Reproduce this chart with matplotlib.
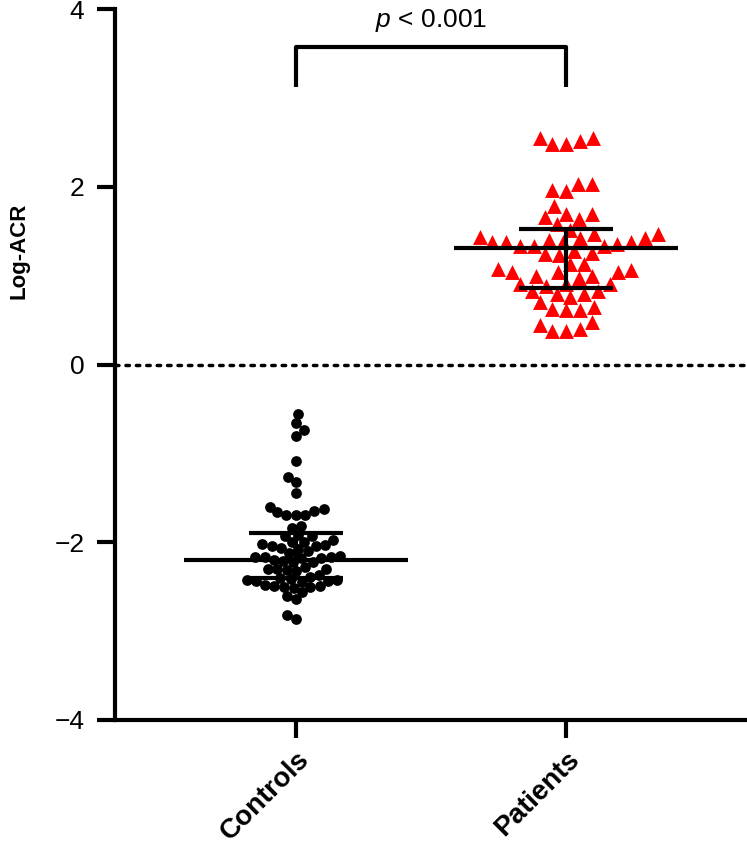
import numpy as np
import matplotlib
matplotlib.use('Agg')
import matplotlib.pyplot as plt

plt.rcParams['font.family'] = ['Liberation Sans', 'DejaVu Sans']
plt.rcParams['mathtext.fontset'] = 'custom'
plt.rcParams['mathtext.it'] = 'Liberation Sans:italic'
plt.rcParams['mathtext.rm'] = 'Liberation Sans'

groups = ['Controls', 'Patients']

controls = [
    -0.555, -0.66, -0.74, -0.80, -1.08, -1.26, -1.32, -1.45,
    -1.60, -1.63, -1.65, -1.66, -1.69, -1.69, -1.69,
    -1.82, -1.84,
    -1.92, -1.93, -1.93,
    -1.98, -2.00, -2.00, -2.02, -2.03, -2.04, -2.04,
    -2.07, -2.08, -2.10, -2.12,
    -2.16, -2.17, -2.17, -2.17, -2.18, -2.18, -2.20, -2.21, -2.22, -2.22,
    -2.28, -2.30, -2.30, -2.30, -2.31, -2.32,
    -2.37, -2.39, -2.40, -2.41, -2.42, -2.43, -2.44, -2.44, -2.45,
    -2.48, -2.49, -2.49, -2.50, -2.50, -2.51,
    -2.56, -2.60, -2.64,
    -2.82, -2.86,
]

patients = [
    2.48, 2.52, 2.48, 2.55, 2.55,
    2.03, 2.03, 1.95, 1.97,
    1.78, 1.70, 1.70, 1.64, 1.58, 1.66,
    1.52, 1.47, 1.47,
    1.34, 1.36, 1.34, 1.38, 1.38, 1.40, 1.38, 1.34, 1.44, 1.42, 1.42, 1.38,
    1.28, 1.26, 1.24,
    1.23, 1.13, 1.13, 1.08, 1.04,
    1.00, 1.06, 1.00, 1.04, 0.98, 1.04,
    0.83, 0.91, 0.91, 0.91, 0.89, 0.79, 0.83,
    0.70, 0.76, 0.79, 0.61, 0.61, 0.63, 0.65,
    0.48,
    0.38, 0.40, 0.45, 0.38,
]

# median and interquartile range as drawn
medians = [-2.20, 1.31]
q_low = [-2.40, 0.86]
q_high = [-1.90, 1.53]

p_text = r'$\it{p}$ < 0.001'


def swarm(ax, values, center, diam_px):
    """simple beeswarm: returns x positions in data units"""
    trans = ax.transData
    x_scale = trans.transform((1, 0))[0] - trans.transform((0, 0))[0]
    ys = [trans.transform((0, v))[1] for v in values]
    order = np.argsort(values)
    placed = []
    xs = np.zeros(len(values))
    for n, i in enumerate(order):
        y = ys[i]
        cands = [0.0]
        for (px, py) in placed:
            dy = abs(py - y)
            if dy < diam_px:
                dx = np.sqrt(diam_px ** 2 - dy ** 2)
                cands += [px + dx, px - dx]
        cands = sorted(cands, key=lambda c: (round(abs(c), 3), c * (1 if n % 2 else -1)))
        for c in cands:
            ok = True
            for (px, py) in placed:
                if (px - c) ** 2 + (py - y) ** 2 < diam_px ** 2 - 1e-6:
                    ok = False
                    break
            if ok:
                break
        placed.append((c, y))
        xs[i] = center + c / x_scale
    return xs


fig = plt.figure(figsize=(7.47, 8.44), dpi=100)
ax = fig.add_axes([0.154, 0.147, 0.846, 0.842])
ax.set_xlim(-0.67, 1.67)
ax.set_ylim(-4, 4)

# zero reference line
ax.axhline(0, color='black', lw=2.5, ls=(0, (1, 2)), dash_capstyle='round', zorder=1)

xs_c = swarm(ax, controls, 0, 9.5)
xs_p = swarm(ax, patients, 1, 14)
ax.scatter(xs_c, controls, s=60, marker='o', color='black', linewidths=0, zorder=2)
ax.scatter(xs_p, patients, s=115, marker='^', color='red', linewidths=0, zorder=2)

for i in range(len(groups)):
    ax.hlines(medians[i], i - 0.415, i + 0.415, color='black', lw=3, zorder=3)
    ax.hlines([q_low[i], q_high[i]], i - 0.174, i + 0.174, color='black', lw=3, zorder=3)
    ax.vlines(i, q_low[i], q_high[i], color='black', lw=3, zorder=3)

# significance bracket
ax.plot([0, 0, 1, 1], [3.13, 3.57, 3.57, 3.13], color='black', lw=3,
        clip_on=False, solid_capstyle='butt', zorder=3)
ax.text(0.5, 3.72, p_text, ha='center', va='bottom', fontsize=19)

ax.spines['top'].set_visible(False)
ax.spines['right'].set_visible(False)
ax.spines['left'].set_linewidth(3)
ax.spines['bottom'].set_linewidth(3)

ax.set_yticks([-4, -2, 0, 2, 4])
ax.set_yticklabels(['\u22124', '\u22122', '0', '2', '4'])
ax.tick_params(axis='y', length=13, width=3, labelsize=19, pad=9)
ax.set_xticks(range(len(groups)))
ax.set_xticklabels(groups, rotation=45, ha='right', rotation_mode='anchor',
                   fontsize=20, fontweight='bold')
ax.tick_params(axis='x', length=13, width=3, pad=6)
ax.set_ylabel('Log-ACR', fontsize=16, fontweight='bold')
ax.yaxis.set_label_coords(-0.135, 0.66)

fig.savefig('out.png', dpi=100)
